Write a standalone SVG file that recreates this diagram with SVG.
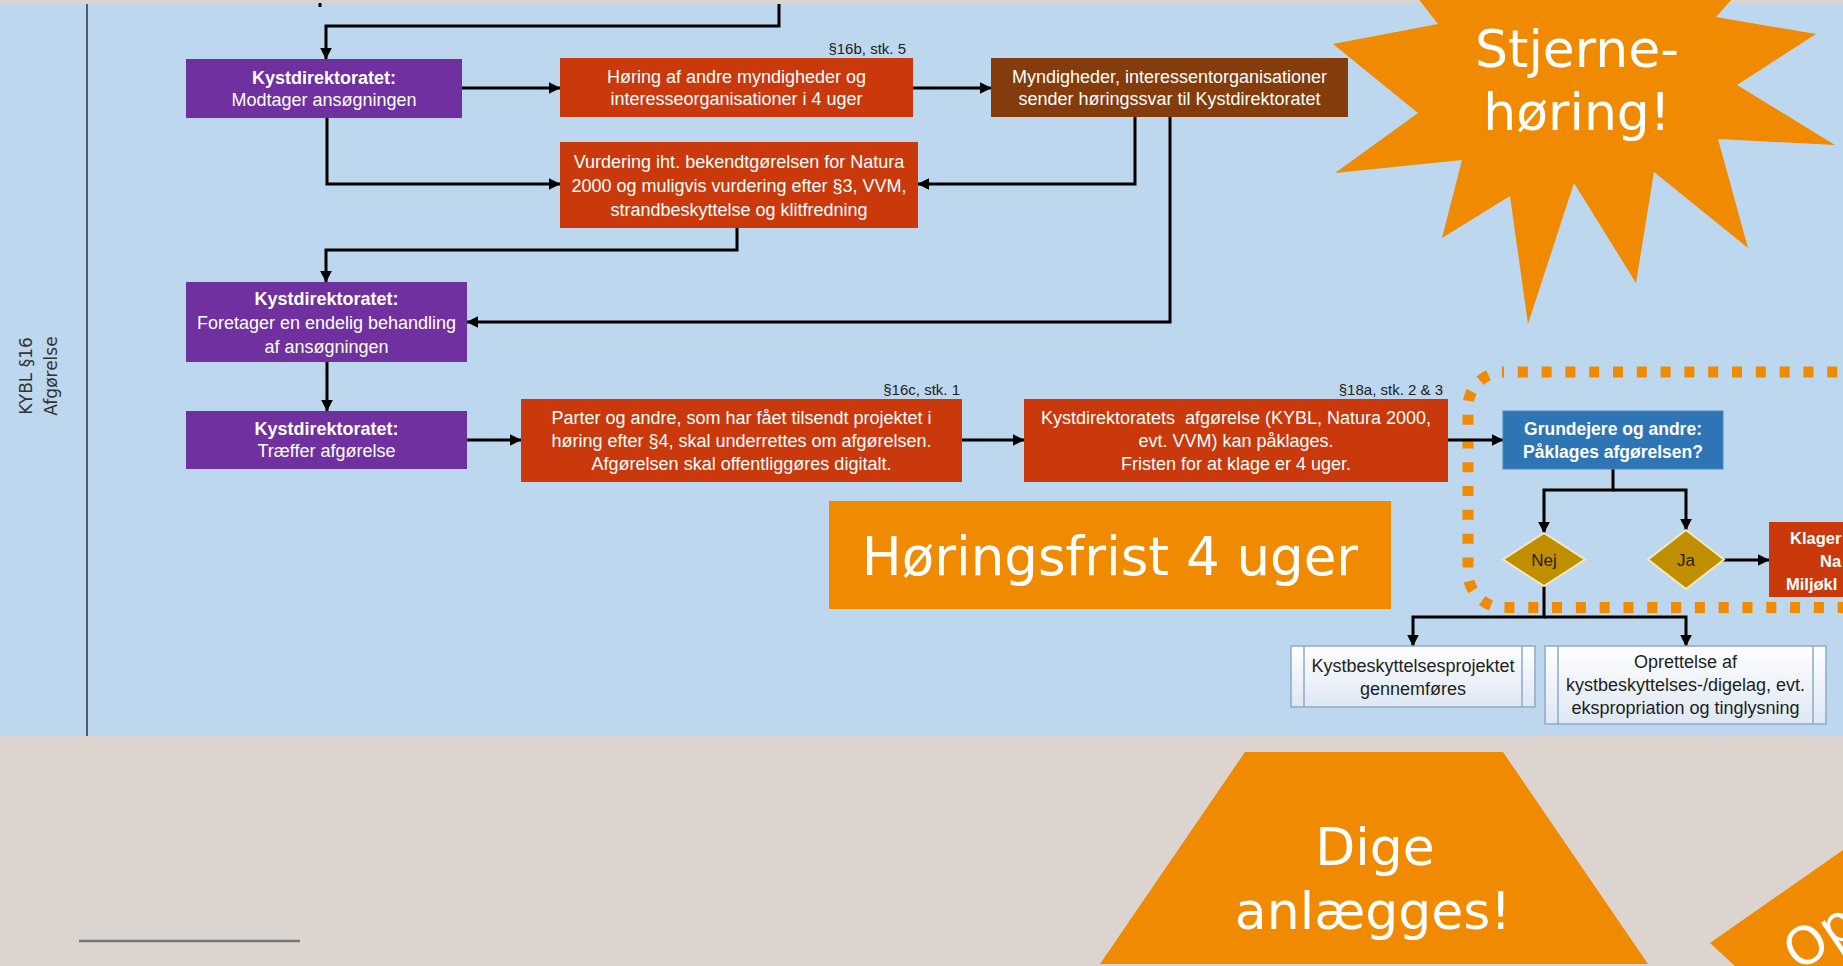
<svg xmlns="http://www.w3.org/2000/svg" width="1843" height="966" viewBox="0 0 1843 966">
<defs>
<style>
.t{font-family:"Liberation Sans",Arial,sans-serif;font-size:18px;fill:#fff;text-anchor:middle}
.b{font-weight:bold}
.dk{fill:#1e1e1e}
.ref{font-family:"Liberation Sans",Arial,sans-serif;font-size:15px;fill:#222;text-anchor:end}
.big{font-family:"DejaVu Sans",Verdana,sans-serif;font-size:52px;fill:#fff;text-anchor:middle}
.lane{font-family:"DejaVu Sans",Verdana,sans-serif;font-size:17px;fill:#333;text-anchor:middle}
.red{fill:#C9390B}
.pur{fill:#7030A0}
.org{fill:#F08A00}
.c path{fill:none;stroke:#000;stroke-width:3}
.dia{fill:#BF8F00;stroke:#F3E9C0;stroke-width:2}
.pp{fill:url(#gw);stroke:#8EA9C8;stroke-width:1.5}
.pl{stroke:#8EA9C8;stroke-width:1.5}
</style>
<marker id="ar" viewBox="0 0 10 10" refX="9.5" refY="5" markerWidth="12" markerHeight="12" markerUnits="userSpaceOnUse" orient="auto"><path d="M0,0 L10,5 L0,10 z" fill="#000"/></marker>
<linearGradient id="gw" x1="0" y1="0" x2="0" y2="1"><stop offset="0" stop-color="#fff"/><stop offset="1" stop-color="#DDE7F3"/></linearGradient>
</defs>

<g id="background">
<rect x="0" y="0" width="1843" height="966" fill="#DCD5CF"/>
<rect x="0" y="4" width="1843" height="732" fill="#BDD7EE"/>
<line x1="87" y1="4" x2="87" y2="736" stroke="#333" stroke-width="1.5"/>
<line x1="79" y1="941" x2="300" y2="941" stroke="#777" stroke-width="2.5"/>
</g>

<g id="lane-label">
<text class="lane" transform="translate(32,376) rotate(-90)">KYBL §16</text>
<text class="lane" transform="translate(57,376) rotate(-90)">Afgørelse</text>
</g>

<g id="klage-frame">
<rect x="1468" y="372" width="600" height="235.5" rx="35" fill="none" stroke="#F08A00" stroke-width="11" stroke-dasharray="10 13.8" stroke-dashoffset="9"/>
</g>

<g id="connectors" class="c">
<path d="M320,3 V7"/>
<path d="M779,4 V26 H326 V59" marker-end="url(#ar)"/>
<path d="M462,88 H560" marker-end="url(#ar)"/>
<path d="M913,88 H991" marker-end="url(#ar)"/>
<path d="M327,118 V184 H560" marker-end="url(#ar)"/>
<path d="M1135,117 V184 H918" marker-end="url(#ar)"/>
<path d="M1170,117 V322 H467" marker-end="url(#ar)"/>
<path d="M737,228 V250 H326 V282" marker-end="url(#ar)"/>
<path d="M327,362 V411" marker-end="url(#ar)"/>
<path d="M467,440 H521" marker-end="url(#ar)"/>
<path d="M962,440 H1024" marker-end="url(#ar)"/>
<path d="M1448,440 H1503" marker-end="url(#ar)"/>
<path d="M1613,469 V490 H1544 V533" marker-end="url(#ar)"/>
<path d="M1613,490 H1686 V530" marker-end="url(#ar)"/>
<path d="M1723,560 H1769" marker-end="url(#ar)"/>
<path d="M1544,586 V617 H1413 V646" marker-end="url(#ar)"/>
<path d="M1544,617 H1686 V646" marker-end="url(#ar)"/>
</g>

<g id="node-modtager">
<rect class="pur" x="186" y="59" width="276" height="59"/>
<text class="t b" x="324" y="84">Kystdirektoratet:</text>
<text class="t" x="324" y="106">Modtager ansøgningen</text>
</g>

<g id="node-hoering">
<rect class="red" x="560" y="58" width="353" height="59"/>
<text class="ref" x="906" y="54">§16b, stk. 5</text>
<text class="t" x="736.5" y="83">Høring af andre myndigheder og</text>
<text class="t" x="736.5" y="105">interesseorganisationer i 4 uger</text>
</g>

<g id="node-myndigheder">
<rect x="991" y="58" width="357" height="59" fill="#843C0C"/>
<text class="t" x="1169.5" y="83">Myndigheder, interessentorganisationer</text>
<text class="t" x="1169.5" y="105">sender høringssvar til Kystdirektoratet</text>
</g>

<g id="node-vurdering">
<rect class="red" x="560" y="142" width="358" height="86"/>
<text class="t" x="739" y="168">Vurdering iht. bekendtgørelsen for Natura</text>
<text class="t" x="739" y="192">2000 og muligvis vurdering efter §3, VVM,</text>
<text class="t" x="739" y="216">strandbeskyttelse og klitfredning</text>
</g>

<g id="node-behandling">
<rect class="pur" x="186" y="282" width="281" height="80"/>
<text class="t b" x="326.5" y="305">Kystdirektoratet:</text>
<text class="t" x="326.5" y="329">Foretager en endelig behandling</text>
<text class="t" x="326.5" y="353">af ansøgningen</text>
</g>

<g id="node-traeffer">
<rect class="pur" x="186" y="411" width="281" height="58"/>
<text class="t b" x="326.5" y="435">Kystdirektoratet:</text>
<text class="t" x="326.5" y="457">Træffer afgørelse</text>
</g>

<g id="node-parter">
<rect class="red" x="521" y="399" width="441" height="83"/>
<text class="ref" x="960" y="395">§16c, stk. 1</text>
<text class="t" x="741.5" y="424">Parter og andre, som har fået tilsendt projektet i</text>
<text class="t" x="741.5" y="447">høring efter §4, skal underrettes om afgørelsen.</text>
<text class="t" x="741.5" y="470">Afgørelsen skal offentliggøres digitalt.</text>
</g>

<g id="node-paaklages">
<rect class="red" x="1024" y="399" width="424" height="83"/>
<text class="ref" x="1443" y="395">§18a, stk. 2 &amp; 3</text>
<text class="t" x="1236" y="424" xml:space="preserve">Kystdirektoratets  afgørelse (KYBL, Natura 2000,</text>
<text class="t" x="1236" y="447">evt. VVM) kan påklages.</text>
<text class="t" x="1236" y="470">Fristen for at klage er 4 uger.</text>
</g>

<g id="node-grundejere">
<rect x="1503" y="411" width="220" height="58" fill="#2E75B6" stroke="#4A88C4" stroke-width="1"/>
<text class="t b" x="1613" y="435" style="font-size:17.5px">Grundejere og andre:</text>
<text class="t b" x="1613" y="458" style="font-size:17.5px">Påklages afgørelsen?</text>
</g>

<g id="node-nej">
<polygon class="dia" points="1544,533 1585,559.5 1544,586 1503,559.5"/>
<text class="t dk" x="1544" y="566" style="font-size:17px">Nej</text>
</g>

<g id="node-ja">
<polygon class="dia" points="1686,530 1724,559.5 1686,589 1648,559.5"/>
<text class="t dk" x="1686" y="566" style="font-size:17px">Ja</text>
</g>

<g id="node-klager">
<rect class="red" x="1769" y="522" width="100" height="75"/>
<text class="t b" x="1790" y="544" style="text-anchor:start;font-size:16.5px">Klager</text>
<text class="t b" x="1820" y="567" style="text-anchor:start;font-size:16.5px">Na</text>
<text class="t b" x="1786" y="590" style="text-anchor:start;font-size:16.5px">Miljøkl</text>
</g>

<g id="node-gennemfoeres">
<rect class="pp" x="1291" y="646" width="244" height="61"/>
<line class="pl" x1="1304" y1="646" x2="1304" y2="707"/>
<line class="pl" x1="1522" y1="646" x2="1522" y2="707"/>
<text class="t dk" x="1413" y="672">Kystbeskyttelsesprojektet</text>
<text class="t dk" x="1413" y="695">gennemføres</text>
</g>

<g id="node-oprettelse">
<rect class="pp" x="1545" y="646" width="281" height="78"/>
<line class="pl" x1="1558" y1="646" x2="1558" y2="724"/>
<line class="pl" x1="1813" y1="646" x2="1813" y2="724"/>
<text class="t dk" x="1685.5" y="668">Oprettelse af</text>
<text class="t dk" x="1685.5" y="691">kystbeskyttelses-/digelag, evt.</text>
<text class="t dk" x="1685.5" y="714">ekspropriation og tinglysning</text>
</g>

<g id="callout-horingsfrist">
<rect class="org" x="829" y="501" width="562" height="108"/>
<text class="big" x="1110" y="575" style="font-size:53px">Høringsfrist 4 uger</text>
</g>

<g id="callout-stjerne">
<polygon class="org" points="1410,-12 1438,24 1333,44 1418,113 1335,173 1462,160 1442,238 1510,196 1528,324 1574,183 1636,283 1654,172 1748,248 1718,139 1835,145 1737,85 1816,34 1716,17 1742,-12"/>
<text class="big" x="1577" y="67">Stjerne-</text>
<text class="big" x="1577" y="130">høring!</text>
</g>

<g id="callout-dige">
<polygon class="org" points="1245,752 1503,752 1648,964 1100,964"/>
<text class="big" x="1375" y="865">Dige</text>
<text class="big" x="1373" y="929">anlægges!</text>
</g>

<g id="callout-op">
<polygon class="org" points="1710,943 1843,850 1843,966 1735,966"/>
<text class="big" x="1799" y="972" style="text-anchor:start" transform="rotate(-34 1799 972)">Op</text>
</g>
</svg>
